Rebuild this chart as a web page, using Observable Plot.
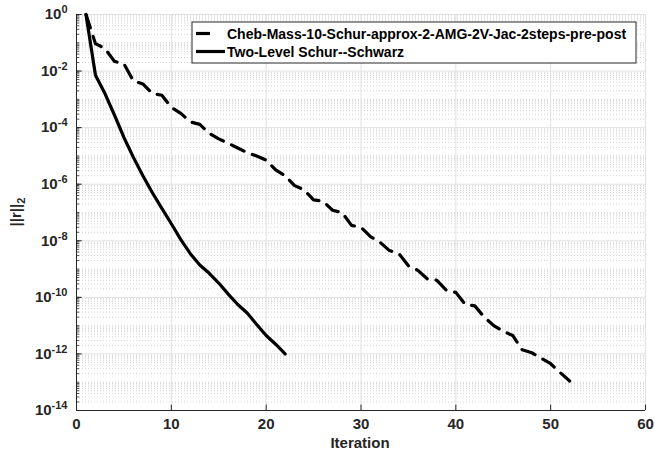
<!DOCTYPE html>
<html>
<head>
<meta charset="utf-8">
<script src="https://cdn.jsdelivr.net/npm/d3@7"></script>
<script src="https://cdn.jsdelivr.net/npm/@observablehq/plot@0.6"></script>
<style>
  html, body { margin: 0; padding: 0; background: #fff; }
  svg { font-family: "Liberation Sans", Arial, Helvetica, sans-serif; }
</style>
</head>
<body>
<div id="chart"></div>
<script>
// ---- data ----
const seriesNames = ["Cheb-Mass-10-Schur-approx-2-AMG-2V-Jac-2steps-pre-post", "Two-Level Schur--Schwarz"];

const chebIter = [1,2,3,4,5,6,7,8,9,10,11,12,13,14,15,16,17,18,19,20,21,22,23,24,25,26,27,28,29,30,31,32,33,34,35,36,37,38,39,40,41,42,43,44,45,46,47,48,49,50,51,52];
const chebRes = [1, 9.3e-2, 6.3e-2, 2.2e-2, 1.8e-2, 4.5e-3, 3.5e-3, 1.6e-3, 1.4e-3, 5.2e-4,
  3.2e-4, 1.6e-4, 1.3e-4, 6.3e-5, 4.0e-5, 2.8e-5, 1.9e-5, 1.3e-5, 1.0e-5, 7.1e-6,
  3.2e-6, 2.0e-6, 8.9e-7, 6.3e-7, 2.8e-7, 2.5e-7, 1.2e-7, 1.0e-7, 3.5e-8, 3.0e-8,
  1.4e-8, 8.9e-9, 4.5e-9, 3.5e-9, 1.3e-9, 9.0e-10, 4.5e-10, 4.0e-10, 1.8e-10, 1.5e-10,
  5.6e-11, 5.0e-11, 2.0e-11, 1.0e-11, 6.3e-12, 4.5e-12, 1.4e-12, 1.1e-12, 7.1e-13, 4.5e-13,
  2.2e-13, 1.1e-13];

const schwarzIter = [1,2,3,4,5,6,7,8,9,10,11,12,13,14,15,16,17,18,19,20,21,22];
const schwarzRes = [1, 7.1e-3, 1.6e-3, 2.8e-4, 4.5e-5, 8.9e-6, 2.0e-6, 5.0e-7, 1.4e-7, 4.0e-8,
  1.1e-8, 3.5e-9, 1.4e-9, 7.1e-10, 3.2e-10, 1.3e-10, 5.6e-11, 2.8e-11, 1.1e-11, 4.5e-12,
  2.2e-12, 1.0e-12];

const xTicks = [0, 10, 20, 30, 40, 50, 60];
const yTicks = [1, 1e-2, 1e-4, 1e-6, 1e-8, 1e-10, 1e-12, 1e-14];
const yTickLabels = ["0", "-2", "-4", "-6", "-8", "-10", "-12", "-14"];
const decades = [1, 1e-1, 1e-2, 1e-3, 1e-4, 1e-5, 1e-6, 1e-7, 1e-8, 1e-9, 1e-10, 1e-11, 1e-12, 1e-13, 1e-14];
const minorMult = [1, 2, 3, 4, 5, 6, 7, 8, 9];

// ---- build tables ----
const cheb = chebIter.map((x, i) => ({x, y: chebRes[i]}));
const schwarz = schwarzIter.map((x, i) => ({x, y: schwarzRes[i]}));
const minorVals = [];
for (const d of decades) for (const m of minorMult) {
  const v = d * m;
  if (v <= 1 && v >= 1e-14 && !yTicks.includes(v)) minorVals.push(v);
}
const minorTickVals = [];
for (const d of decades) for (const m of minorMult) {
  const v = d * m;
  if (v <= 1 && v >= 1e-14) minorTickVals.push(v);
}

const axisColor = "#262626";

const chart = Plot.plot({
  width: 655,
  height: 453,
  marginLeft: 76,
  marginRight: 10,
  marginTop: 14,
  marginBottom: 43,
  style: {fontFamily: "'Liberation Sans', Arial, Helvetica, sans-serif", background: "#fff"},
  x: {domain: [0, 60], ticks: xTicks},
  y: {type: "log", domain: [1e-14, 1]},
  marks: [
    Plot.ruleY(minorVals, {stroke: "#c8c8c8", strokeWidth: 0.8, strokeDasharray: "1,2"}),
    Plot.ruleY(yTicks, {stroke: "#e1e1e1", strokeWidth: 1}),
    Plot.ruleX(xTicks, {stroke: "#e1e1e1", strokeWidth: 1}),
    // inward ticks
    Plot.ruleY(minorTickVals, {x1: 0, x2: 0.33, stroke: axisColor, strokeWidth: 0.8}),
    Plot.ruleY(yTicks, {x1: 0, x2: 0.6, stroke: axisColor, strokeWidth: 1}),
    Plot.ruleX(xTicks, {y1: 1e-14, y2: 1.55e-14, stroke: axisColor, strokeWidth: 1}),
    // axis lines
    Plot.ruleX([0], {stroke: axisColor, strokeWidth: 1}),
    Plot.ruleY([1e-14], {stroke: axisColor, strokeWidth: 1}),
    // data
    Plot.line(cheb, {x: "x", y: "y", stroke: "#000", strokeWidth: 3.2, strokeDasharray: "14,9", strokeLinejoin: "round"}),
    Plot.line(schwarz, {x: "x", y: "y", stroke: "#000", strokeWidth: 3.2, strokeLinejoin: "round"}),
    Plot.axisX(xTicks, {tickSize: 0, tickPadding: 8, fontSize: 15, fill: axisColor, label: null}),
    Plot.axisY(yTicks, {tickSize: 0, tickPadding: 9, fontSize: 15, fill: axisColor, label: null,
      tickFormat: (d) => "10^" + yTickLabels[yTicks.indexOf(d)]})
  ]
});

document.getElementById("chart").appendChild(chart);
const svg = d3.select(chart);

// bold tick labels
svg.selectAll("g[aria-label='x-axis tick label'], g[aria-label='y-axis tick label']")
  .attr("font-weight", "bold").attr("font-size", 15);

// superscripts on y tick labels
svg.selectAll("g[aria-label='y-axis tick label'] text").each(function() {
  const t = d3.select(this);
  const s = t.text();
  const parts = s.split("^");
  if (parts.length === 2) {
    t.text(null);
    t.append("tspan").text(parts[0]);
    t.append("tspan").attr("dy", "-0.55em").attr("font-size", "11px").text(parts[1]);
  }
});

// x-axis label
svg.append("text")
  .attr("x", 360).attr("y", 448)
  .attr("text-anchor", "middle")
  .attr("font-size", 15).attr("font-weight", "bold").attr("fill", axisColor)
  .text("Iteration");

// y-axis label ||r||_2
const yl = svg.append("text")
  .attr("transform", "translate(21,212) rotate(-90)")
  .attr("text-anchor", "middle")
  .attr("font-size", 15).attr("font-weight", "bold").attr("fill", axisColor);
yl.append("tspan").text("||r||");
yl.append("tspan").attr("dy", "0.35em").attr("font-size", "11px").text("2");

// legend
const lg = svg.append("g");
lg.append("rect").attr("x", 192).attr("y", 22).attr("width", 444).attr("height", 41)
  .attr("fill", "#fff").attr("stroke", axisColor).attr("stroke-width", 1);
const rows = [{y: 33.5, dash: "14,9", x2: 219}, {y: 51.5, dash: null, x2: 225}];
rows.forEach((r, i) => {
  const ln = lg.append("line").attr("x1", 196).attr("x2", r.x2).attr("y1", r.y).attr("y2", r.y)
    .attr("stroke", "#000").attr("stroke-width", 3.2);
  if (r.dash) ln.attr("stroke-dasharray", r.dash);
  lg.append("text").attr("x", 227).attr("y", r.y + 5)
    .attr("text-anchor", "start")
    .attr("font-size", 14).attr("font-weight", "bold").attr("fill", "#000")
    .text(seriesNames[i]);
});
</script>
</body>
</html>
